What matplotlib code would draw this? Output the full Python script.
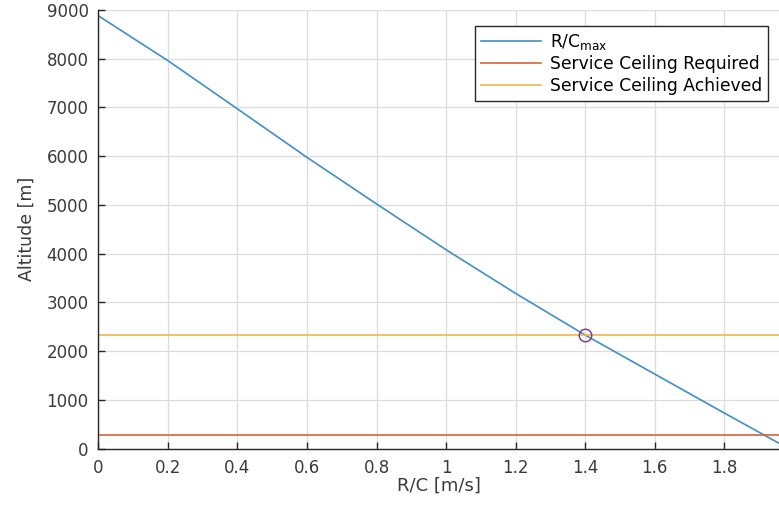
import numpy as np
import matplotlib
matplotlib.use("Agg")
import matplotlib.pyplot as plt

plt.rcParams['font.family'] = ['DejaVu Sans']
plt.rcParams['mathtext.fontset'] = 'dejavusans'

# max rate of climb vs altitude
rc = [0.0, 0.2, 0.4, 0.6, 0.8, 1.0, 1.2, 1.4, 1.6, 1.8, 1.96]
alt = [8880, 7960, 6970, 5975, 5020, 4080, 3185, 2330, 1530, 730, 100]

ceiling_required = 280
ceiling_achieved = 2330
rc_achieved = 1.4

xticks = [0, 0.2, 0.4, 0.6, 0.8, 1, 1.2, 1.4, 1.6, 1.8]
xticklabels = ['0', '0.2', '0.4', '0.6', '0.8', '1', '1.2', '1.4', '1.6', '1.8']
yticks = np.arange(0, 9001, 1000)

blue = '#3f8fc6'
orange = '#d9633a'
yellow = '#edb948'
purple = '#7e2f8e'
axcol = '#262626'
txtcol = '#3a3a3a'

fig = plt.figure(figsize=(7.79, 5.08), dpi=100)
ax = fig.add_axes([0.1264, 0.1171, 0.8736, 0.8632])

ax.plot(rc, alt, color=blue, lw=1.2, label=r'R/C$_{\mathrm{max}}$')
ax.axhline(ceiling_required, color=orange, lw=1.2, label='Service Ceiling Required')
ax.axhline(ceiling_achieved, color=yellow, lw=1.2, label='Service Ceiling Achieved')
ax.plot([rc_achieved], [ceiling_achieved], 'o', mfc='none', mec=purple, ms=9, mew=1.0)

ax.set_xlim(0, 1.958)
ax.set_ylim(0, 9000)
ax.set_xticks(xticks)
ax.set_xticklabels(xticklabels)
ax.set_yticks(yticks)

ax.grid(True, color='#dcdcdc', lw=0.9)
ax.set_axisbelow(True)
for s in ['top', 'right']:
    ax.spines[s].set_visible(False)
for s in ['left', 'bottom']:
    ax.spines[s].set_color(axcol)
    ax.spines[s].set_linewidth(1.0)
ax.tick_params(direction='in', length=5, width=1.0, color=axcol,
               labelcolor=txtcol, labelsize=12)
ax.tick_params(axis='y', pad=7)
ax.tick_params(axis='x', pad=7.5)

ax.set_xlabel('R/C [m/s]', fontsize=13, color=txtcol, labelpad=0)
ax.set_ylabel('Altitude [m]', fontsize=12.5, color=txtcol, labelpad=8)

leg = ax.legend(loc='upper right', bbox_to_anchor=(0.9835, 0.964), fontsize=12.3,
                frameon=True, fancybox=False, framealpha=1, edgecolor='#262626',
                handlelength=3.5, handletextpad=0.5, borderpad=0.35,
                labelspacing=0.2, borderaxespad=0)
leg.get_frame().set_linewidth(1.0)

fig.savefig('out.png', dpi=100)
